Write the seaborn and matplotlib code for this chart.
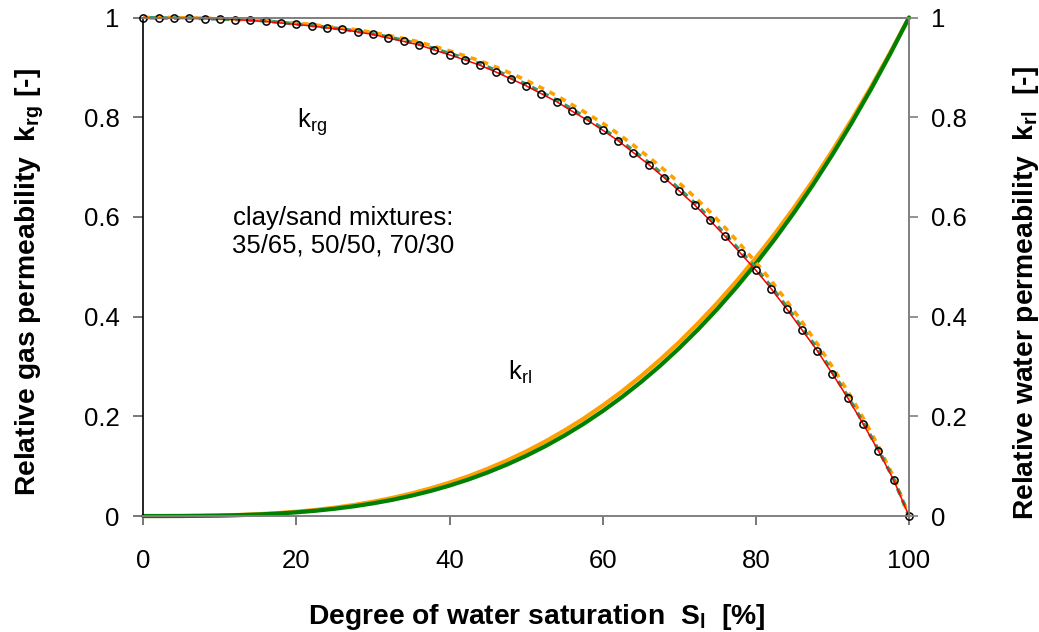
import matplotlib
matplotlib.use("Agg")
import matplotlib.pyplot as plt
import seaborn as sns
import pandas as pd

# Degree of water saturation (%) for the gas permeability curves
sat_krg = list(range(0, 101, 2))

# Relative gas permeability k_rg, three clay/sand mixtures
krg_35_65 = [1.000, 0.999, 0.999, 0.999, 0.998, 0.997, 0.996, 0.994, 0.992, 0.989,
             0.986, 0.983, 0.979, 0.976, 0.971, 0.966, 0.959, 0.952, 0.945, 0.935,
             0.925, 0.915, 0.904, 0.891, 0.877, 0.863, 0.847, 0.831, 0.812, 0.794,
             0.774, 0.753, 0.729, 0.705, 0.679, 0.652, 0.624, 0.593, 0.561, 0.527,
             0.493, 0.456, 0.416, 0.374, 0.332, 0.285, 0.237, 0.185, 0.131, 0.072,
             0.000]
krg_50_50 = [1.000, 0.999, 0.999, 0.999, 0.998, 0.997, 0.996, 0.995, 0.993, 0.990,
             0.987, 0.984, 0.980, 0.977, 0.972, 0.967, 0.961, 0.954, 0.947, 0.937,
             0.928, 0.918, 0.907, 0.894, 0.880, 0.866, 0.850, 0.834, 0.816, 0.797,
             0.777, 0.756, 0.733, 0.709, 0.683, 0.656, 0.628, 0.597, 0.565, 0.531,
             0.497, 0.460, 0.420, 0.378, 0.336, 0.289, 0.240, 0.188, 0.133, 0.074,
             0.000]
krg_70_30 = [1.000, 1.000, 1.000, 0.999, 0.999, 0.998, 0.997, 0.996, 0.994, 0.991,
             0.989, 0.986, 0.982, 0.979, 0.975, 0.970, 0.964, 0.958, 0.951, 0.942,
             0.933, 0.923, 0.913, 0.901, 0.888, 0.874, 0.859, 0.843, 0.825, 0.807,
             0.788, 0.767, 0.744, 0.720, 0.695, 0.668, 0.640, 0.610, 0.578, 0.544,
             0.509, 0.472, 0.432, 0.390, 0.346, 0.299, 0.250, 0.197, 0.140, 0.078,
             0.000]

# Degree of water saturation (%) for the water permeability curves
sat_krl = [i * 2.5 for i in range(41)]

# Relative water permeability k_rl
krl_green = [0.0000, 0.0000, 0.0001, 0.0004, 0.0009, 0.0018, 0.0031, 0.0049, 0.0074,
             0.0106, 0.0146, 0.0195, 0.0254, 0.0324, 0.0407, 0.0502, 0.0611, 0.0735,
             0.0876, 0.1033, 0.1208, 0.1401, 0.1615, 0.1849, 0.2106, 0.2385, 0.2688,
             0.3015, 0.3369, 0.3750, 0.4159, 0.4596, 0.5063, 0.5561, 0.6091, 0.6654,
             0.7251, 0.7884, 0.8552, 0.9257, 1.0000]
krl_orange = [0.0000, 0.0000, 0.0001, 0.0005, 0.0011, 0.0022, 0.0037, 0.0058, 0.0087,
              0.0123, 0.0168, 0.0222, 0.0287, 0.0363, 0.0452, 0.0554, 0.0670, 0.0800,
              0.0949, 0.1113, 0.1295, 0.1495, 0.1715, 0.1954, 0.2216, 0.2499, 0.2806,
              0.3136, 0.3490, 0.3874, 0.4280, 0.4715, 0.5179, 0.5667, 0.6188, 0.6740,
              0.7331, 0.7947, 0.8595, 0.9285, 1.0000]

x_ticks = [0, 20, 40, 60, 80, 100]
y_ticks = [0, 0.2, 0.4, 0.6, 0.8, 1]
y_tick_labels = ["0", "0.2", "0.4", "0.6", "0.8", "1"]

sns.set_style("white")
plt.rcParams["font.family"] = ["Liberation Sans", "DejaVu Sans"]
plt.rcParams["mathtext.fontset"] = "custom"
plt.rcParams["mathtext.rm"] = "Liberation Sans"
plt.rcParams["mathtext.it"] = "Liberation Sans"
plt.rcParams["mathtext.bf"] = "Liberation Sans:bold"
plt.rcParams["text.color"] = "black"
plt.rcParams["axes.labelcolor"] = "black"
plt.rcParams["xtick.color"] = "black"
plt.rcParams["ytick.color"] = "black"

ORANGE = "#FFA000"
GREEN = "#008000"
TEAL = "#339966"

fig = plt.figure(figsize=(10.39, 6.32), dpi=100)
ax = fig.add_axes([0.1379, 0.1835, 0.737, 0.7888])

df_krg = pd.DataFrame({"S": sat_krg, "a": krg_35_65, "b": krg_50_50, "c": krg_70_30})
df_krl = pd.DataFrame({"S": sat_krl, "g": krl_green, "o": krl_orange})

# water permeability curves
sns.lineplot(data=df_krl, x="S", y="o", ax=ax, color=ORANGE, lw=3.0, zorder=2)
sns.lineplot(data=df_krl, x="S", y="g", ax=ax, color=GREEN, lw=3.0, zorder=2.1)

# gas permeability curves
sns.lineplot(data=df_krg, x="S", y="c", ax=ax, color=ORANGE, lw=2.6,
             linestyle=(0, (1.7, 1.7)), zorder=3)
sns.lineplot(data=df_krg, x="S", y="b", ax=ax, color=TEAL, lw=2.6,
             linestyle=(1.7, (1.7, 1.7)), zorder=3.1)
sns.lineplot(data=df_krg, x="S", y="a", ax=ax, color="red", lw=1.1, zorder=4,
             marker="o", markersize=5.2, markerfacecolor="none",
             markeredgecolor="black", markeredgewidth=1.1)
for line in ax.lines:
    line.set_clip_on(False)

ax.set_xlim(0, 100)
ax.set_ylim(0, 1)
ax.set_xticks(x_ticks)
ax.set_xticklabels([str(t) for t in x_ticks])
ax.set_yticks(y_ticks)
ax.set_yticklabels(y_tick_labels)

ax2 = ax.twinx()
ax2.set_ylim(0, 1)
ax2.set_yticks(y_ticks)
ax2.set_yticklabels(y_tick_labels)

for a in (ax, ax2):
    for s in a.spines.values():
        s.set_color("#808080")
        s.set_linewidth(1.2)
ax.spines["left"].set_color("black")
ax2.spines["left"].set_visible(False)

ax.tick_params(axis="x", direction="out", length=6.5, width=1.2, color="#606060",
               labelsize=18.5, pad=17, bottom=True)
ax.tick_params(axis="y", direction="out", length=7, width=1.2, color="#606060",
               labelsize=18.5, pad=10, left=True)
ax2.tick_params(axis="y", direction="out", length=6.5, width=1.2, color="#808080",
                labelsize=18.5, pad=9, right=True)

ax.set_xlabel(r"Degree of water saturation  S$_\mathbf{l}$  [%]", fontsize=20.3,
              fontweight="bold", labelpad=21, x=0.514)
ax.set_ylabel(r"Relative gas permeability  k$_\mathbf{rg}$ [-]", fontsize=20.3,
              fontweight="bold", labelpad=27, y=0.469)
ax2.set_ylabel(r"Relative water permeability  k$_\mathbf{rl}$  [-]", fontsize=20.3,
               fontweight="bold", labelpad=32, y=0.448)

ax.text(22.0, 0.79, r"k$_\mathregular{rg}$", fontsize=18.5, ha="center", va="center")
ax.text(26.1, 0.57, "clay/sand mixtures:\n35/65, 50/50, 70/30", fontsize=18.5,
        ha="center", va="center", linespacing=1.2)
ax.text(49.2, 0.288, r"k$_\mathregular{rl}$", fontsize=18.5, ha="center", va="center")

fig.savefig("out.png", dpi=100)
